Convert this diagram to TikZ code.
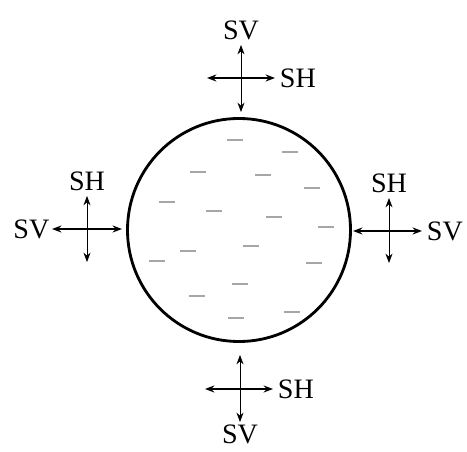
\documentclass[tikz,border=0pt]{standalone}
\usepackage{fontspec}
\setmainfont{Liberation Serif}
\usetikzlibrary{arrows.meta,positioning}
\tikzset{
    wave label/.style={font=\fontsize{24}{27}\selectfont, inner sep=1pt},
    wave tips/.style={{Stealth[length=8pt,width=6pt]}-{Stealth[length=8pt,width=6pt]}},
    wave h/.style={wave tips, line width=1.6pt},
    wave v/.style={wave tips, line width=0.7pt},
    body outline/.style={draw, circle, line width=2.4pt, minimum size=6.69cm, inner sep=0pt},
    body dash/.style={draw=gray!70, line width=1pt}
}

\begin{document}
\begin{tikzpicture}[x=0.03cm, y=-0.03cm]
\useasboundingbox (0,0) rectangle (467,452);

% Body with charges
\node[body outline] (body) at (239,230) {};
\foreach \px/\py in {235/140, 290/152, 198/172, 263/175, 312/188, 167/202,
    214/211, 274/217, 326/227, 251/246, 188/251, 157/261, 314/263,
    240/284, 197/296, 292/312, 236/318}
    \draw[body dash] (\px-8,\py) -- (\px+8,\py);

% Top probe
\coordinate (tn) at (241,45);
\coordinate (ts) at (241,112);
\coordinate (tw) at (207,78);
\coordinate (te) at (275,78);
\draw[wave h] (tw) -- (te);
\draw[wave v] (tn) -- (ts);
\node[wave label, above=3pt of tn] (tsv) {SV};
\node[wave label, right=3pt of te] (tsh) {SH};

% Left probe
\coordinate (ln) at (87,196);
\coordinate (ls) at (87,262);
\coordinate (lw) at (52,229);
\coordinate (le) at (122,229);
\draw[wave h] (lw) -- (le);
\draw[wave v] (ln) -- (ls);
\node[wave label, above=3pt of ln] (lsh) {SH};
\node[wave label, left=1pt of lw] (lsv) {SV};

% Right probe
\coordinate (rn) at (389,198);
\coordinate (rs) at (389,263);
\coordinate (rw) at (353,231);
\coordinate (re) at (422,231);
\draw[wave h] (rw) -- (re);
\draw[wave v] (rn) -- (rs);
\node[wave label, above=3pt of rn] (rsh) {SH};
\node[wave label, right=3pt of re] (rsv) {SV};

% Bottom probe
\coordinate (bn) at (240,355);
\coordinate (bs) at (240,422);
\coordinate (bw) at (205,389);
\coordinate (be) at (273,389);
\draw[wave h] (bw) -- (be);
\draw[wave v] (bn) -- (bs);
\node[wave label, right=3pt of be] (bsh) {SH};
\node[wave label, below=1pt of bs] (bsv) {SV};
\end{tikzpicture}
\end{document}
